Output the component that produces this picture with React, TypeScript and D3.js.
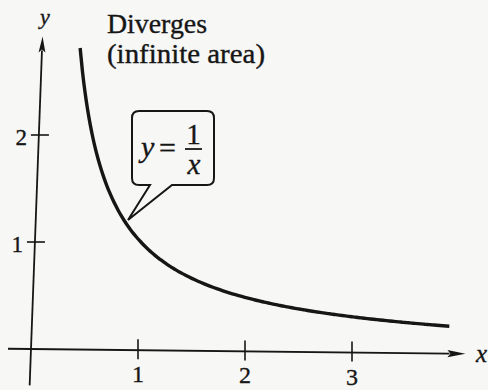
import React from "react";
import * as d3 from "d3";

// Tick values and labels along each axis
const xTicks = [1, 2, 3];
const yTicks = [1, 2];
const xTickLabels = ["1", "2", "3"];
const yTickLabels = ["1", "2"];

// Curve y = 1/x sampled over its drawn range
const curveStart = 0.355;
const curveEnd = 3.9;
const curveSamples = d3.range(0, 121).map((i) => curveStart + (i / 120) * (curveEnd - curveStart));
const curveX = curveSamples;
const curveY = curveSamples.map((x) => 1 / x);

// Axis extents (data units)
const xAxisExtent = [-0.215, 4.06];
const yAxisExtent = [-0.34, 2.92];

// Text labels
const titleLines = ["Diverges", "(infinite area)"];

const W = 488;
const H = 390;
const ORIGIN_X = 31;
const ORIGIN_Y = 349;
const UNIT = 107;
// slight tilt of the printed axes
const SHEAR_X = -0.037;
const SHEAR_Y = 0.0112;

const INK = "#161616";
const PAPER = "#f7f7f5";
const SERIF = "'Liberation Serif', 'Times New Roman', 'DejaVu Serif', serif";
const TEXT_STROKE = { stroke: INK, strokeWidth: 0.35 };

const xs = d3.scaleLinear().domain([0, 1]).range([0, UNIT]);
const ys = d3.scaleLinear().domain([0, 1]).range([0, -UNIT]);

function proj(x: number, y: number): [number, number] {
  const X = xs(x);
  const Y = ys(y);
  return [ORIGIN_X + X + SHEAR_X * Y, ORIGIN_Y + Y + SHEAR_Y * X];
}

export default function App() {
  const line = d3
    .line<number>()
    .x((_, i) => proj(curveX[i], curveY[i])[0])
    .y((_, i) => proj(curveX[i], curveY[i])[1])
    .curve(d3.curveMonotoneX);
  const curvePath = line(curveX) || "";

  const xa0 = proj(xAxisExtent[0], 0);
  const xa1 = proj(xAxisExtent[1], 0);
  const ya0 = proj(0, yAxisExtent[0]);
  const ya1 = proj(0, yAxisExtent[1]);

  // arrowheads
  const xArrowLen = 18;
  const xArrowBase = proj(xAxisExtent[1] - xArrowLen / UNIT, 0);
  const xArrow = `M${xa1[0]},${xa1[1]} L${xArrowBase[0]},${xArrowBase[1] - 3.6} L${xArrowBase[0] + 3},${xArrowBase[1]} L${xArrowBase[0]},${xArrowBase[1] + 3.6} Z`;
  const yArrowLen = 16;
  const yArrowBase = proj(0, yAxisExtent[1] - yArrowLen / UNIT);
  const yArrow = `M${ya1[0]},${ya1[1]} L${yArrowBase[0] - 3.4},${yArrowBase[1]} L${yArrowBase[0]},${yArrowBase[1] - 3} L${yArrowBase[0] + 3.4},${yArrowBase[1]} Z`;

  // callout box with pointer towards the curve
  const bx0 = 132, by0 = 111, bx1 = 214, by1 = 185, r = 7;
  const tip: [number, number] = [128, 220];
  const calloutPath = [
    `M${bx0 + r},${by0}`,
    `H${bx1 - r}`,
    `Q${bx1},${by0} ${bx1},${by0 + r}`,
    `V${by1 - r}`,
    `Q${bx1},${by1} ${bx1 - r},${by1}`,
    `H172`,
    `L${tip[0]},${tip[1]}`,
    `L150,${by1}`,
    `H${bx0 + r}`,
    `Q${bx0},${by1} ${bx0},${by1 - r}`,
    `V${by0 + r}`,
    `Q${bx0},${by0} ${bx0 + r},${by0}`,
    "Z",
  ].join(" ");

  return (
    <svg
      width={W}
      height={H}
      viewBox={`0 0 ${W} ${H}`}
      style={{ position: "absolute", left: 0, top: 0, background: PAPER }}
    >
      <rect x={0} y={0} width={W} height={H} fill={PAPER} />

      {/* axes */}
      <line x1={xa0[0]} y1={xa0[1]} x2={xArrowBase[0] + 2} y2={xArrowBase[1]} stroke={INK} strokeWidth={1.8} />
      <path d={xArrow} fill={INK} />
      <line x1={ya0[0]} y1={ya0[1]} x2={yArrowBase[0]} y2={yArrowBase[1] - 2} stroke={INK} strokeWidth={1.8} />
      <path d={yArrow} fill={INK} />

      {/* x ticks */}
      {xTicks.map((t, i) => {
        const [px, py] = proj(t, 0);
        return (
          <g key={`xt${t}`}>
            <line x1={px} y1={py - 11} x2={px} y2={py + 9} stroke={INK} strokeWidth={1.6} />
            <text x={px} y={py + 32} textAnchor="middle" fontFamily={SERIF} fontSize={24} fill={INK} {...TEXT_STROKE}>
              {xTickLabels[i]}
            </text>
          </g>
        );
      })}

      {/* y ticks */}
      {yTicks.map((t, i) => {
        const [px, py] = proj(0, t);
        return (
          <g key={`yt${t}`}>
            <line x1={px - 8} y1={py} x2={px + 10} y2={py} stroke={INK} strokeWidth={1.6} />
            <text x={px - 12} y={py + 10} textAnchor="end" fontFamily={SERIF} fontSize={23} fill={INK} {...TEXT_STROKE}>
              {yTickLabels[i]}
            </text>
          </g>
        );
      })}

      {/* axis names */}
      <text x={40} y={24} fontFamily={SERIF} fontStyle="italic" fontSize={22} fill={INK} {...TEXT_STROKE}>y</text>
      <text x={476} y={362} fontFamily={SERIF} fontStyle="italic" fontSize={25} fill={INK} {...TEXT_STROKE}>x</text>

      {/* curve */}
      <path d={curvePath} fill="none" stroke={INK} strokeWidth={3.4} strokeLinecap="butt" />

      {/* annotation */}
      <text x={107} y={33} fontFamily={SERIF} fontSize={27} fill={INK} textLength={100} lengthAdjust="spacingAndGlyphs" {...TEXT_STROKE}>
        {titleLines[0]}
      </text>
      <text x={107} y={63} fontFamily={SERIF} fontSize={27} fill={INK} textLength={158} lengthAdjust="spacingAndGlyphs" {...TEXT_STROKE}>
        {titleLines[1]}
      </text>

      {/* callout with the function */}
      <path d={calloutPath} fill={PAPER} stroke={INK} strokeWidth={2} strokeLinejoin="miter" />
      <text x={141} y={157} fontFamily={SERIF} fontStyle="italic" fontSize={30} fill={INK} {...TEXT_STROKE}>y</text>
      <text x={159} y={158} fontFamily={SERIF} fontSize={30} fill={INK} {...TEXT_STROKE}>=</text>
      <text x={193.5} y={144} textAnchor="middle" fontFamily={SERIF} fontSize={29} fill={INK} {...TEXT_STROKE}>1</text>
      <line x1={185} y1={149} x2={202} y2={149} stroke={INK} strokeWidth={1.8} />
      <text x={194} y={174} textAnchor="middle" fontFamily={SERIF} fontStyle="italic" fontSize={29} fill={INK} {...TEXT_STROKE}>x</text>
    </svg>
  );
}
